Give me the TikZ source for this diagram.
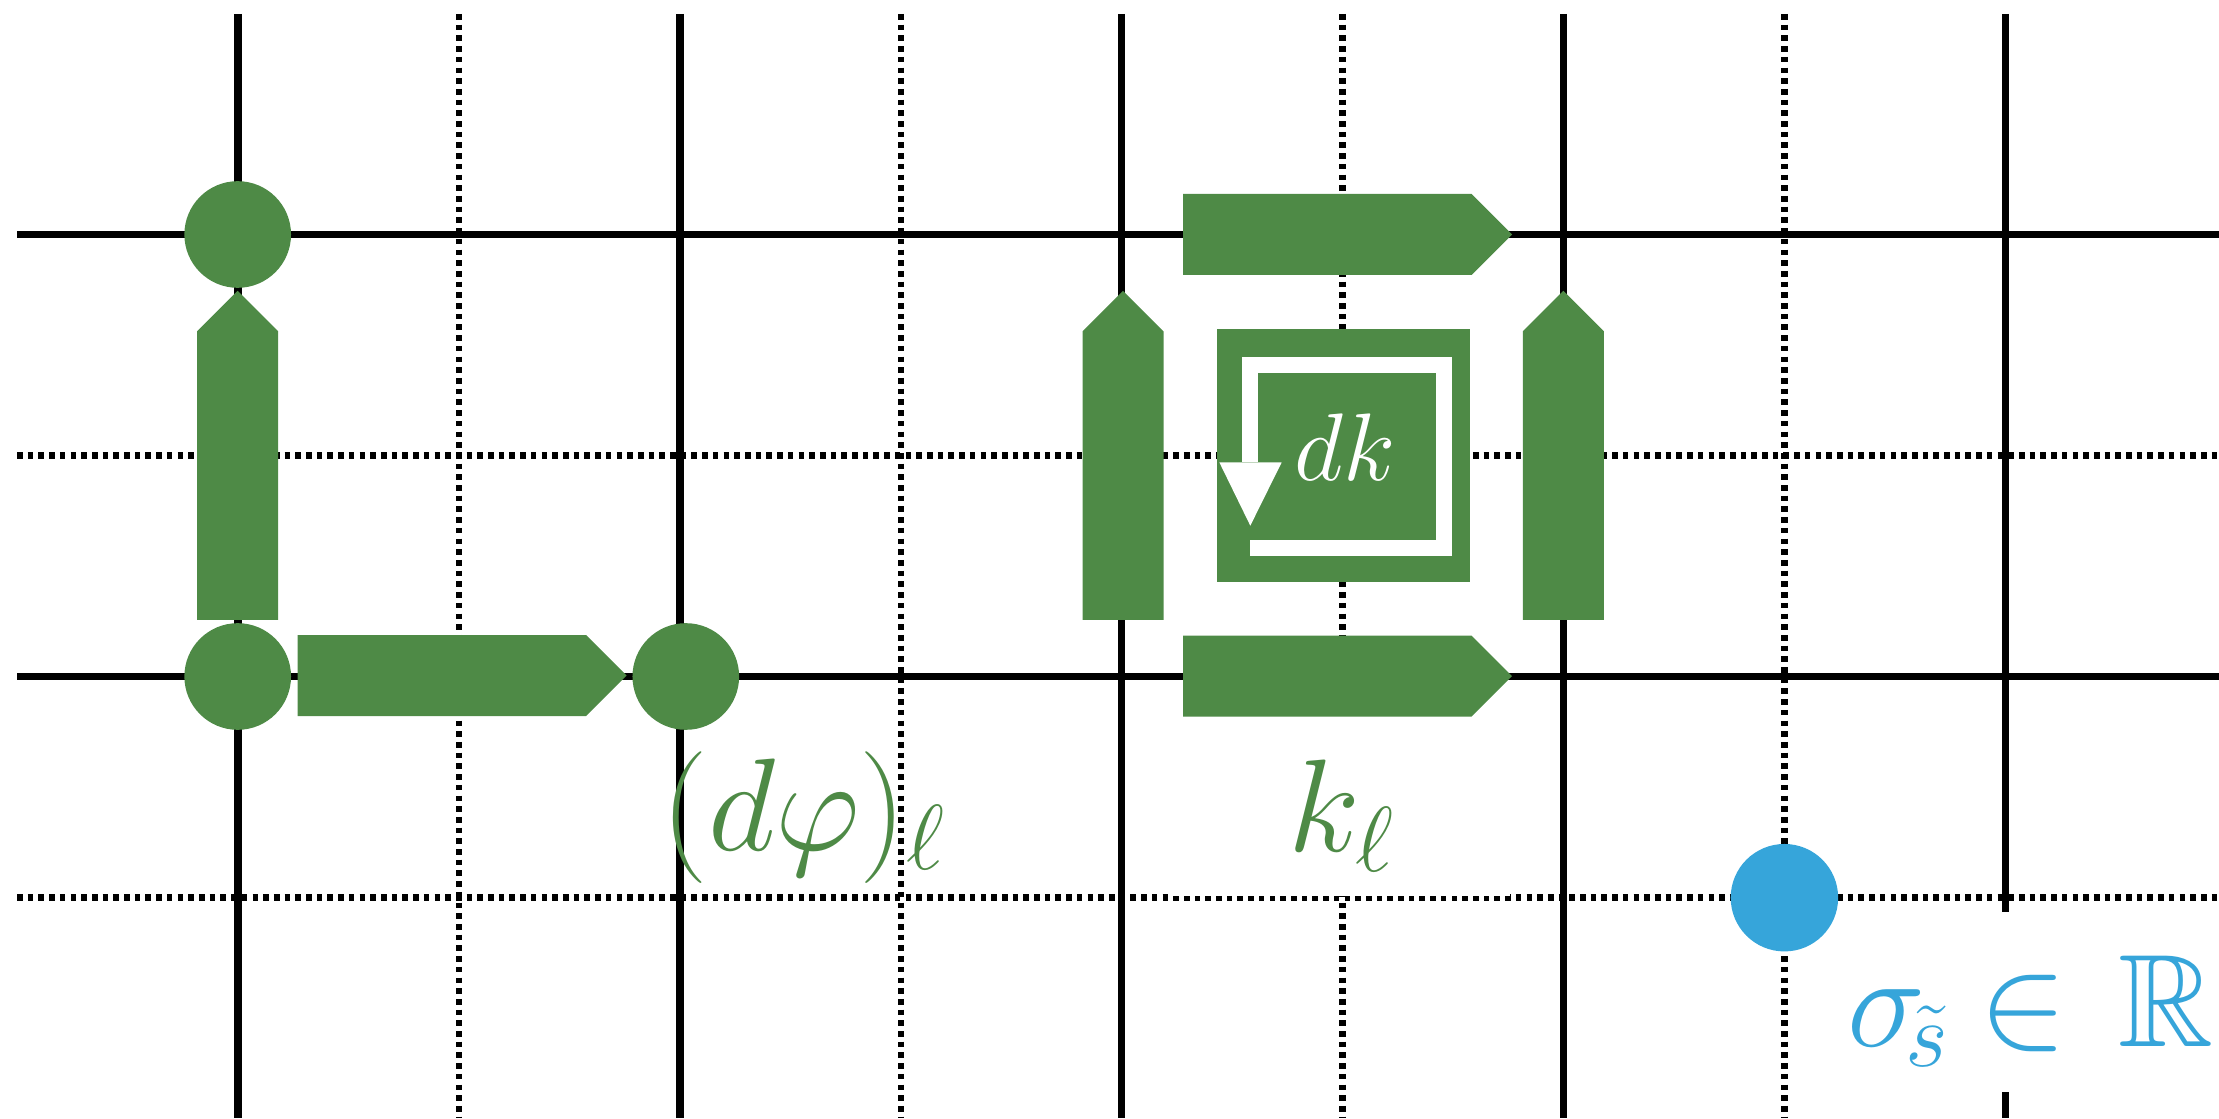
\RequirePackage{fix-cm}
\documentclass[tikz,border=0pt]{standalone}
\usepackage{amsmath,amssymb}
\definecolor{leafgreen}{RGB}{78,138,70}
\definecolor{skyblue}{RGB}{54,165,218}
\tikzset{
  gridsolid/.style={line width=0.077cm, black},
  griddotted/.style={line width=0.062cm, black, dash pattern=on 0.056cm off 0.051cm},
  site/.style={circle, fill=leafgreen, minimum size=1.066cm, inner sep=0pt},
  source/.style={circle, fill=skyblue, minimum size=1.074cm, inner sep=0pt},
  biglabel/.style={inner sep=0pt, font=\fontsize{37.5}{40}\selectfont},
  % link arrows, drawn from their tip
  uparr/.pic={\fill[leafgreen] (0,0) -- (40.5,40.5) -- (40.5,329) -- (-40.5,329) -- (-40.5,40.5) -- cycle;},
  rightarr/.pic={\fill[leafgreen] (0,0) -- (-40.5,40.5) -- (-329,40.5) -- (-329,-40.5) -- (-40.5,-40.5) -- cycle;},
}
\begin{document}
\begin{tikzpicture}[x=0.01cm,y=-0.01cm]
\useasboundingbox (0,0) rectangle (2219,1119);
% lattice
\foreach \x in {237.7,679.7,1121.6,1563.5} \draw[gridsolid] (\x,14) -- (\x,1118);
\draw[gridsolid] (2005.4,14) -- (2005.4,911.7);
\draw[gridsolid] (2005.4,1092) -- (2005.4,1118);
\foreach \x in {458.7,900.6,1342.5,1784.4} \draw[griddotted] (\x,14) -- (\x,1118);
\foreach \y in {234.5,676.5} \draw[gridsolid] (17,\y) -- (2219,\y);
\foreach \y in {455.5,897.5} \draw[griddotted] (17,\y) -- (2219,\y);
% white backing behind the k label
\fill[white] (1168,700) rectangle (1510,895.5);
% sites
\node[site] (s1) at (237.7,234.5) {};
\node[site] (s2) at (237.7,676.5) {};
\node[site] (s3) at (685.8,676.5) {};
% links
\pic at (237.7,290.8) {uparr};
\pic at (626.5,675.5) {rightarr};
\pic at (1123,290.8) {uparr};
\pic at (1563.3,290.8) {uparr};
\pic at (1512,234.5) {rightarr};
\pic at (1512,676.2) {rightarr};
% plaquette
\node[fill=leafgreen, minimum size=2.53cm, inner sep=0pt] (plaq) at (1343.4,455.2) {};
\draw[white, line width=0.16cm, line join=miter] (1250.3,547.8) -- (1443.7,547.8) -- (1443.7,365.3) -- (1250.3,365.3) -- (1250.3,462.3);
\fill[white] (1219.3,462.3) -- (1281.7,462.3) -- (1250.3,525.7) -- cycle;
\node[anchor=base, text=white, inner sep=0pt, font=\fontsize{27.3}{30}\selectfont] (dk) at (1344.7,480.7) {$dk$};
% labels
\node[biglabel, anchor=base west, text=leafgreen] (dphi) at (660.6,850) {$(d\varphi)_\ell$};
\node[biglabel, anchor=base west, text=leafgreen] (kl) at (1287.5,851.7) {$k_\ell$};
% source
\node[source] (src) at (1784.4,897.7) {};
\node[biglabel, anchor=base west, text=skyblue] (sig) at (1846.7,1046.7)
  {$\sigma_{\!\tilde s}\mskip4mu\mathord{\in}\mskip7mu\mathbb{R}$};
\end{tikzpicture}
\end{document}
